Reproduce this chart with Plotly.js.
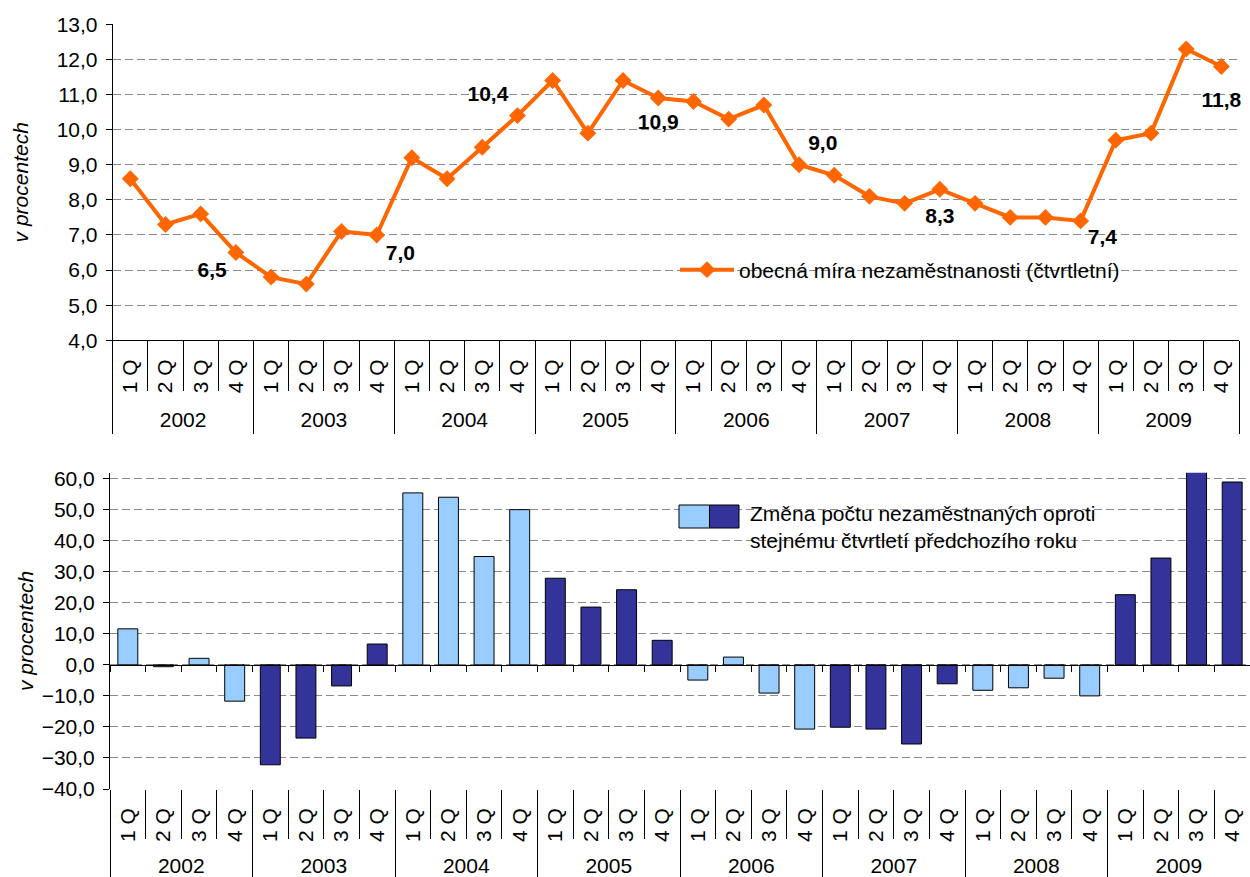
<!DOCTYPE html>
<html><head><meta charset="utf-8">
<script src="https://cdn.plot.ly/plotly-3.0.1.min.js"></script>
<style>html,body{margin:0;padding:0;background:#fff}#chart{width:1250px;height:877px}</style>
</head><body><div id="chart"></div>
<script>
// ---- data ----
const years = ['2002','2003','2004','2005','2006','2007','2008','2009'];
const quarters = ['1 Q','2 Q','3 Q','4 Q'];
const unemploymentRate = [
  8.6, 7.3, 7.6, 6.5,
  5.8, 5.6, 7.1, 7.0,
  9.2, 8.6, 9.5, 10.4,
  11.4, 9.9, 11.4, 10.9,
  10.8, 10.3, 10.7, 9.0,
  8.7, 8.1, 7.9, 8.3,
  7.9, 7.5, 7.5, 7.4,
  9.7, 9.9, 12.3, 11.8
];
const unemployedChange = [
  11.6, -0.6, 2.1, -11.7,
  -32.2, -23.6, -6.8, 6.7,
  55.4, 54.0, 34.9, 50.0,
  27.9, 18.6, 24.2, 7.9,
  -4.9, 2.5, -9.1, -20.7,
  -20.1, -20.7, -25.5, -6.1,
  -8.2, -7.4, -4.3, -10.0,
  22.6, 34.4, 63.0, 58.9
];
const rateName = 'obecná míra nezaměstnanosti (čtvrtletní)';
const changeName = 'Změna počtu nezaměstnaných oproti<br>stejnému čtvrtletí předchozího roku';
const yTitle = 'v procentech';

// ---- styles ----
const q4LabelPos = ['bottom left','bottom right','top left','bottom center','top right','bottom center','bottom right','bottom center'];
const q4LabelGap = [13, 13, 13, 22, 13, 27, 10, 38];
const FONT = 'Liberation Sans, Arial, Helvetica, sans-serif';
const FS = 21;
const ORANGE = '#FF6600', LIGHT = '#99CCFF', DARK = '#333399';
const GRID = '#8a8a8a';
const W = 1250, H = 877;
const px = v => v / W, py = v => 1 - v / H;

// ---- derived ----
const xYear = [], xQuarter = [];
years.forEach(y => quarters.forEach(q => { xYear.push(y); xQuarter.push(q); }));
const n = xYear.length;
const idx = xYear.map((_, i) => i);
const bounds = [-0.5].concat(idx.map(i => i + 0.5));
const yearCenters = years.map((_, k) => k * quarters.length + (quarters.length - 1) / 2);
const yearBounds = [-0.5].concat(years.map((_, k) => (k + 1) * quarters.length - 0.5));
const fmt = v => v.toFixed(1).replace('.', ',');
const isQ4 = i => xQuarter[i] === quarters[quarters.length - 1];
const rateText = unemploymentRate.map((v, i) => isQ4(i) ? fmt(v) : '');
const ratePos = unemploymentRate.map((v, i) => isQ4(i) ? q4LabelPos[years.indexOf(xYear[i])] : 'top center');
const rateGap = unemploymentRate.map((v, i) => isQ4(i) ? q4LabelGap[years.indexOf(xYear[i])] : 1);
const barColors = xYear.map(y => years.indexOf(y) % 2 === 0 ? LIGHT : DARK);

const topX = [px(112.7), px(1239)];
const topY = [py(340.3), py(24.3)];
const botX = [px(110), 1];
const botY = [py(789), py(472.7)];
const y2Range = [-40, 61.9];
const zeroPos = botY[0] + (0 - y2Range[0]) / (y2Range[1] - y2Range[0]) * (botY[1] - botY[0]);

// invisible helper trace so that an overlay axis (labels / separators) gets drawn
function helper(xa, ya, yvals) {
  return {type: 'scatter', mode: 'markers', x: idx, y: yvals, xaxis: xa, yaxis: ya,
          marker: {opacity: 0, size: 1}, hoverinfo: 'skip', showlegend: false};
}

const traces = [
  {
    type: 'scatter', mode: 'lines+markers',
    x: [xYear, xQuarter], y: unemploymentRate,
    xaxis: 'x', yaxis: 'y',
    name: rateName,
    line: {color: ORANGE, width: 4},
    marker: {symbol: 'diamond', size: 13, color: ORANGE},
    hoverinfo: 'y'
  },
  {
    type: 'scatter', mode: 'markers+text',
    x: [xYear, xQuarter], y: unemploymentRate,
    xaxis: 'x', yaxis: 'y',
    marker: {size: rateGap, opacity: 0},
    text: rateText, textposition: ratePos,
    textfont: {family: FONT, size: FS, color: '#000', weight: 'bold'},
    cliponaxis: false, showlegend: false, hoverinfo: 'skip'
  },
  {
    type: 'bar',
    x: [xYear, xQuarter], y: unemployedChange,
    xaxis: 'x2', yaxis: 'y2',
    name: 'Změna počtu nezaměstnaných',
    marker: {color: barColors, line: {color: '#000', width: 1}},
    showlegend: false,
    hoverinfo: 'y'
  },
  helper('x3', 'y', unemploymentRate),
  helper('x4', 'y', unemploymentRate),
  helper('x5', 'y2', unemployedChange),
  helper('x6', 'y2', unemployedChange),
  helper('x7', 'y2', unemployedChange)
];

function mainY(domain, range, dtick, anchor, standoff) {
  return {
    domain: domain, anchor: anchor, range: range, dtick: dtick, tick0: 0,
    tickformat: '.1f', ticks: 'outside', ticklen: 6, tickcolor: '#000',
    showline: true, linecolor: '#000', linewidth: 1,
    showgrid: true, gridcolor: GRID, griddash: '8px,4px', gridwidth: 1,
    zeroline: false, tickfont: {size: FS, color: '#000'},
    ticklabelstandoff: 4,
    title: {text: yTitle, font: {size: FS, style: 'italic', color: '#000'}, standoff: standoff}
  };
}
function labelAxis(over, anchor, domain, vals, texts, angle, standoff, minorVals, minorLen) {
  return {
    overlaying: over, anchor: anchor, domain: domain, type: 'linear',
    range: [-0.5, n - 0.5], tickmode: 'array', tickvals: vals, ticktext: texts,
    tickangle: angle, ticks: '', ticklabelstandoff: standoff,
    tickfont: {size: FS, color: '#000'},
    showgrid: false, zeroline: false, showline: false,
    minor: {tickmode: 'array', tickvals: minorVals, ticks: 'outside', ticklen: minorLen,
            tickcolor: '#000', tickwidth: 1, showgrid: false}
  };
}

const layout = {
  width: W, height: H,
  margin: {l: 0, r: 0, t: 0, b: 0},
  paper_bgcolor: '#fff', plot_bgcolor: '#fff',
  font: {family: FONT, size: FS, color: '#000'},
  separators: ', ',
  showlegend: true,
  legend: {x: px(675), y: py(270), xanchor: 'left', yanchor: 'middle',
           bgcolor: 'rgba(0,0,0,0)', borderwidth: 0, itemwidth: 54,
           font: {size: FS, color: '#000'}},
  xaxis: {type: 'multicategory', domain: topX, anchor: 'y', range: [-0.5, n - 0.5],
          showticklabels: false, ticks: '', showline: true, linecolor: '#000', linewidth: 1,
          showgrid: false, zeroline: false, showdividers: false},
  yaxis: mainY(topY, [4, 13], 1, 'x', 22),
  xaxis2: {type: 'multicategory', domain: botX, anchor: 'y2', range: [-0.5, n - 0.5],
           showticklabels: false, ticks: '', showline: false,
           showgrid: false, zeroline: false, showdividers: false},
  yaxis2: mainY(botY, y2Range, 10, 'x2', 2),
  xaxis3: labelAxis('x', 'y', topX, idx, xQuarter, -90, 14, bounds, 50),
  xaxis4: labelAxis('x', 'y', topX, yearCenters, years, 0, 65, yearBounds, 93),
  xaxis5: labelAxis('x2', 'y2', botX, idx, xQuarter, -90, 14, bounds, 49),
  xaxis6: labelAxis('x2', 'y2', botX, yearCenters, years, 0, 62, yearBounds, 88),
  xaxis7: {overlaying: 'x2', anchor: 'free', position: zeroPos, domain: botX, type: 'linear',
           range: [-0.5, n - 0.5], tickmode: 'array', tickvals: bounds, ticks: 'outside',
           ticklen: 6, tickcolor: '#000', showticklabels: false, showline: true,
           linecolor: '#000', linewidth: 1, showgrid: false, zeroline: false},
  bargap: 0.44,
  shapes: [
    {type: 'rect', xref: 'paper', yref: 'paper', x0: px(679), x1: px(709.5), y0: py(528), y1: py(505),
     fillcolor: LIGHT, line: {color: '#000', width: 1}},
    {type: 'rect', xref: 'paper', yref: 'paper', x0: px(709.5), x1: px(739), y0: py(528), y1: py(505),
     fillcolor: DARK, line: {color: '#000', width: 1}}
  ],
  annotations: [
    {xref: 'paper', yref: 'paper', x: px(748), y: py(527), xanchor: 'left', yanchor: 'middle',
     text: changeName, showarrow: false, align: 'left', font: {size: FS, color: '#000'}}
  ]
};

Plotly.newPlot('chart', traces, layout, {displayModeBar: false, responsive: false});
</script></body></html>
